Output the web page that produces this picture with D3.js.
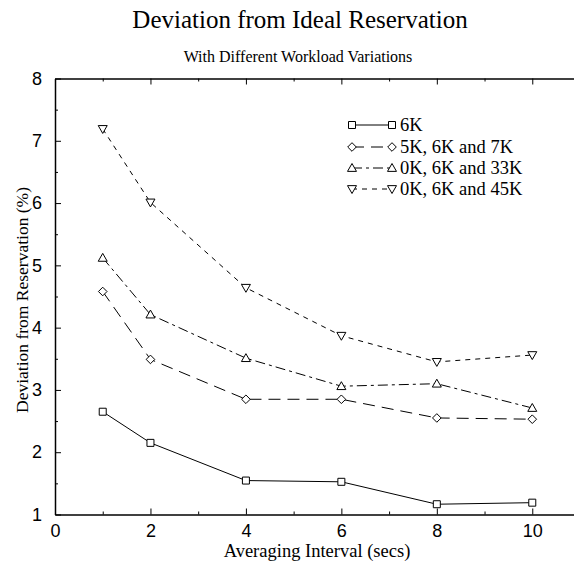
<!DOCTYPE html>
<html><head><meta charset="utf-8">
<script src="https://cdn.jsdelivr.net/npm/d3@7"></script>
<style>body{margin:0;background:#fff}svg{display:block}</style></head>
<body><svg id="c" width="574" height="564"></svg>
<script>
// ---- data ----
const intervals = [1, 2, 4, 6, 8, 10];
const seriesNames = ["6K", "5K, 6K and 7K", "0K, 6K and 33K", "0K, 6K and 45K"];
const s6K      = [2.65, 2.15, 1.545, 1.525, 1.165, 1.19];
const s5_6_7K  = [4.58, 3.49, 2.85, 2.85, 2.55, 2.53];
const s0_6_33K = [5.12, 4.21, 3.51, 3.06, 3.10, 2.71];
const s0_6_45K = [7.19, 6.01, 4.64, 3.87, 3.45, 3.56];
const xTicks = [0, 2, 4, 6, 8, 10];
const xMinorTicks = [1, 3, 5, 7, 9];
const yTicks = [1, 2, 3, 4, 5, 6, 7, 8];
const yMinorTicks = [1.5, 2.5, 3.5, 4.5, 5.5, 6.5, 7.5];
const titleText = "Deviation from Ideal Reservation";
const subtitleText = "With Different Workload Variations";
const xLabel = "Averaging Interval (secs)";
const yLabel = "Deviation from Reservation (%)";

const allSeries = [s6K, s5_6_7K, s0_6_33K, s0_6_45K];
const markers = ["square", "diamond", "triUp", "triDown"];
const dashes = [null, "12,7", "10,4,3,4", "5,5"];

const svg = d3.select("#c");
const serif = "'Liberation Serif','Times New Roman',serif";
const sans = "'Liberation Sans',Arial,Helvetica,sans-serif";

const pLeft = 55, pRight = 580, pTop = 78.5, pBottom = 514.5;
const x = d3.scaleLinear().domain([0, 11]).range([pLeft, pRight]);
const y = d3.scaleLinear().domain([1, 8]).range([pBottom, pTop]);

function markerPath(type, cx, cy) {
  const p = d3.path();
  if (type === "square") { const h = 3.5; p.rect(cx - h, cy - h, 2*h, 2*h); }
  else if (type === "diamond") { const h = 4.3; p.moveTo(cx, cy - h); p.lineTo(cx + h, cy); p.lineTo(cx, cy + h); p.lineTo(cx - h, cy); p.closePath(); }
  else if (type === "triUp") { const h = 4.5; p.moveTo(cx, cy - h); p.lineTo(cx + h, cy + h*0.75); p.lineTo(cx - h, cy + h*0.75); p.closePath(); }
  else { const h = 4.5; p.moveTo(cx, cy + h); p.lineTo(cx + h, cy - h*0.75); p.lineTo(cx - h, cy - h*0.75); p.closePath(); }
  return p.toString();
}

// titles
svg.append("text").attr("x", 300).attr("y", 28).attr("text-anchor", "middle")
  .style("font-family", serif).style("font-size", "25px").text(titleText);
svg.append("text").attr("x", 298).attr("y", 62).attr("text-anchor", "middle")
  .style("font-family", serif).style("font-size", "16px").text(subtitleText);

// axes
const g = svg.append("g");
const axisStyle = sel => { sel.select(".domain").attr("stroke", "#000").attr("stroke-width", 1.5); sel.selectAll(".tick line").attr("stroke", "#000"); };

const xAxis = g.append("g").attr("transform", `translate(0,${pBottom})`)
  .call(d3.axisBottom(x).tickValues(xTicks).tickSizeInner(-6).tickSizeOuter(0).tickPadding(10).tickFormat(d3.format("d")));
xAxis.call(axisStyle);
xAxis.selectAll("text").style("font-family", sans).style("font-size", "18px").attr("fill", "#000");
g.append("g").attr("transform", `translate(0,${pBottom})`)
  .call(d3.axisBottom(x).tickValues(xMinorTicks).tickSizeInner(-3).tickSizeOuter(0).tickFormat(""))
  .call(s => s.select(".domain").remove()).selectAll("line").attr("stroke", "#000");

// top frame
const xTop = g.append("g").attr("transform", `translate(0,${pTop})`)
  .call(d3.axisTop(x).tickValues(xTicks).tickSizeInner(-6).tickSizeOuter(0).tickFormat(""));
xTop.call(axisStyle);
g.append("g").attr("transform", `translate(0,${pTop})`)
  .call(d3.axisTop(x).tickValues(xMinorTicks).tickSizeInner(-3).tickSizeOuter(0).tickFormat(""))
  .call(s => s.select(".domain").remove()).selectAll("line").attr("stroke", "#000");

const yAxis = g.append("g").attr("transform", `translate(${pLeft},0)`)
  .call(d3.axisLeft(y).tickValues(yTicks).tickSizeInner(-6).tickSizeOuter(0).tickPadding(13).tickFormat(d3.format("d")));
yAxis.call(axisStyle);
yAxis.selectAll("text").style("font-family", sans).style("font-size", "18px").attr("fill", "#000");
g.append("g").attr("transform", `translate(${pLeft},0)`)
  .call(d3.axisLeft(y).tickValues(yMinorTicks).tickSizeInner(-3).tickSizeOuter(0).tickFormat(""))
  .call(s => s.select(".domain").remove()).selectAll("line").attr("stroke", "#000");

// axis labels
svg.append("text").attr("x", 317).attr("y", 557).attr("text-anchor", "middle")
  .style("font-family", serif).style("font-size", "18.5px").text(xLabel);
svg.append("text").attr("transform", "translate(28,300) rotate(-90)").attr("text-anchor", "middle")
  .style("font-family", serif).style("font-size", "17.5px").text(yLabel);

// series
const line = d3.line().x(d => x(d[0])).y(d => y(d[1]));
allSeries.forEach((vals, i) => {
  const pts = intervals.map((t, j) => [t, vals[j]]);
  svg.append("path").datum(pts).attr("d", line).attr("fill", "none")
    .attr("stroke", "#000").attr("stroke-width", 1)
    .attr("stroke-dasharray", dashes[i]);
  svg.selectAll(null).data(pts).enter().append("path")
    .attr("d", d => markerPath(markers[i], x(d[0]), y(d[1])))
    .attr("fill", "#fff").attr("stroke", "#000").attr("stroke-width", 1);
});

// legend
const lg = svg.append("g");
const legY = [125, 147, 168, 189];
seriesNames.forEach((name, i) => {
  const yy = legY[i];
  lg.append("line").attr("x1", 352).attr("x2", 392).attr("y1", yy).attr("y2", yy)
    .attr("stroke", "#000").attr("stroke-width", 1).attr("stroke-dasharray", dashes[i]);
  [352, 392].forEach(xx => lg.append("path").attr("d", markerPath(markers[i], xx, yy))
    .attr("fill", "#fff").attr("stroke", "#000").attr("stroke-width", 1));
  lg.append("text").attr("x", 400).attr("y", yy + 6)
    .style("font-family", serif).style("font-size", "18.5px").text(name);
});
</script>
</body></html>
